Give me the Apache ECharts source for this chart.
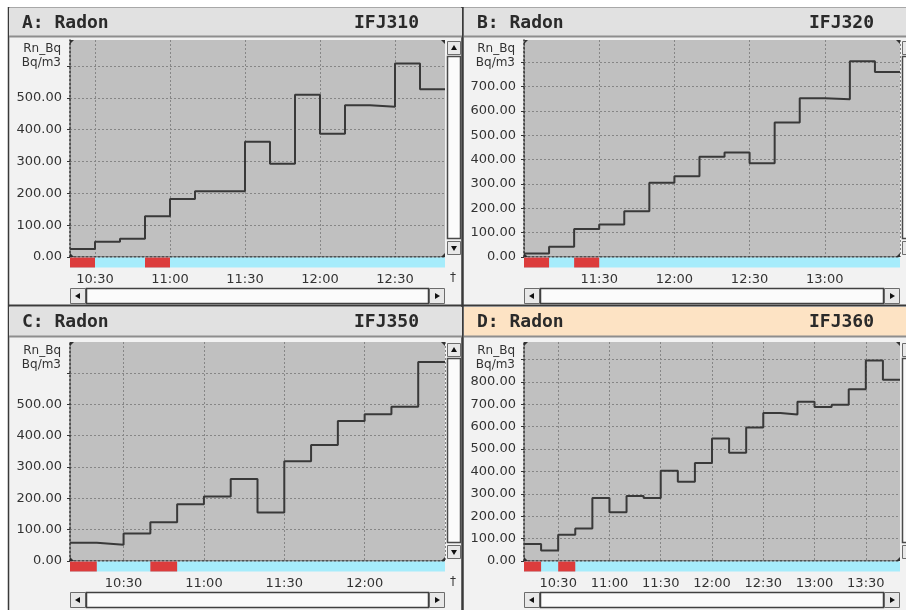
<!DOCTYPE html>
<html>
<head>
<meta charset="utf-8">
<title>Radon</title>
<script src="https://cdn.jsdelivr.net/npm/echarts@6/dist/echarts.min.js"></script>
<style>
  html, body { margin: 0; padding: 0; background: #fff; }
  #main { width: 906px; height: 610px; }
</style>
</head>
<body>
<div id="main"></div>
<script>
"use strict";
// 10 min steps, last time = end of the last step
const timesA = ['10:20','10:30','10:40','10:50','11:00','11:10','11:20','11:30','11:40','11:50','12:00','12:10','12:20','12:30','12:40','12:50'];
const valuesA = [25, 48, 57, 128, 182, 207, 207, 362, 293, 510, 387, 477, 472, 608, 527];
const alarmA = [['10:20','10:30'], ['10:50','11:00']];

const timesB = ['11:00','11:10','11:20','11:30','11:40','11:50','12:00','12:10','12:20','12:30','12:40','12:50','13:00','13:10','13:20','13:30'];
const valuesB = [14, 42, 115, 134, 188, 305, 332, 412, 430, 385, 553, 653, 648, 805, 760];
const alarmB = [['11:00','11:10'], ['11:20','11:30']];

const timesC = ['10:10','10:20','10:30','10:40','10:50','11:00','11:10','11:20','11:30','11:40','11:50','12:00','12:10','12:20','12:30'];
const valuesC = [58, 52, 88, 124, 181, 206, 262, 155, 318, 370, 447, 468, 492, 635];
const alarmC = [['10:10','10:20'], ['10:40','10:50']];

const timesD = ['10:10','10:20','10:30','10:40','10:50','11:00','11:10','11:20','11:30','11:40','11:50','12:00','12:10','12:20','12:30','12:40','12:50','13:00','13:10','13:20','13:30','13:40','13:50'];
const valuesD = [76, 47, 117, 145, 281, 218, 290, 281, 403, 354, 438, 547, 483, 596, 661, 654, 711, 688, 698, 767, 895, 809];
const alarmD = [['10:10','10:20'], ['10:30','10:40']];

// y axis ranges; the top gridline carries no number (unit label sits there)
const yMaxList = [682, 892, 699, 978];
const yUnitTick = [600, 800, 600, 900];

const FONT = 'DejaVu Sans';
const GRID_LINE = '#868686';
const RED = '#dc3c3c';
const CYAN = '#a6ecfb';

// minutes since midnight
function toMin(hm) {
  const p = hm.split(':');
  return (+p[0]) * 60 + (+p[1]);
}
function pad(n) { return (n < 10 ? '0' : '') + n; }
function fmtMin(v) { return pad(Math.floor(v / 60)) + ':' + pad(v % 60); }

const panels = [
  { title: 'A: Radon', id: 'IFJ310', times: timesA, values: valuesA, alarms: alarmA, px: 8,   ty: 8,   th: 28, plot: [70, 40, 375, 217],  active: false, dagger: true },
  { title: 'B: Radon', id: 'IFJ320', times: timesB, values: valuesB, alarms: alarmB, px: 463, ty: 8,   th: 28, plot: [524, 40, 376, 217], active: false, dagger: false },
  { title: 'C: Radon', id: 'IFJ350', times: timesC, values: valuesC, alarms: alarmC, px: 8,   ty: 307, th: 29, plot: [70, 342, 375, 219], active: false, dagger: true },
  { title: 'D: Radon', id: 'IFJ360', times: timesD, values: valuesD, alarms: alarmD, px: 463, ty: 307, th: 29, plot: [524, 342, 376, 219], active: true, dagger: false }
];

// 状态条 (red = alarm, cyan = normal)
function renderBand(params, api) {
  const p0 = api.coord([api.value(0), 0]);
  const p1 = api.coord([api.value(1), 0]);
  return {
    type: 'rect',
    shape: { x: p0[0], y: p0[1] + 0.5, width: p1[0] - p0[0], height: 10 },
    style: { fill: api.value(2) ? RED : CYAN }
  };
}

function scrollParts(L, T, W, H) {
  const out = [];
  const btn = (x, y, w, h) => ({ type: 'rect', shape: { x: x, y: y, width: w, height: h }, style: { fill: '#e8e8e8', stroke: '#6c6c6c', lineWidth: 1 } });
  const tri = (pts) => ({ type: 'polygon', shape: { points: pts }, style: { fill: '#111' } });
  // vertical
  const vx = L + W + 2.5;
  out.push(btn(vx, T + 1.5, 13, 13));
  out.push(tri([[vx + 6.5, T + 5], [vx + 3.5, T + 10], [vx + 9.5, T + 10]]));
  out.push({ type: 'rect', shape: { x: vx, y: T + 16.5, width: 13, height: H - 35 }, style: { fill: '#fbfbfb', stroke: '#4a4a4a', lineWidth: 1.5 } });
  out.push(btn(vx, T + H - 15.5, 13, 13));
  out.push(tri([[vx + 3.5, T + H - 11], [vx + 9.5, T + H - 11], [vx + 6.5, T + H - 6]]));
  // horizontal
  const hy = T + H + 31.5;
  out.push(btn(L + 0.5, hy, 15, 15));
  out.push(tri([[L + 5, hy + 7.5], [L + 10, hy + 4.5], [L + 10, hy + 10.5]]));
  out.push({ type: 'rect', shape: { x: L + 16.5, y: hy, width: W - 33, height: 15 }, style: { fill: '#fbfbfb', stroke: '#404040', lineWidth: 1.5 } });
  out.push(btn(L + W - 15.5, hy, 15, 15));
  out.push(tri([[L + W - 5, hy + 7.5], [L + W - 10, hy + 4.5], [L + W - 10, hy + 10.5]]));
  return out;
}

function corners(L, T, W, H) {
  const s = 4;
  return [
    [[L, T], [L + s, T], [L, T + s]],
    [[L + W, T], [L + W - s, T], [L + W, T + s]],
    [[L, T + H], [L, T + H - s], [L + s, T + H]],
    [[L + W, T + H], [L + W, T + H - s], [L + W - s, T + H]]
  ].map(p => ({ type: 'polygon', shape: { points: p }, style: { fill: '#333' } }));
}

const grids = [], xAxes = [], yAxes = [], series = [];
const graphics = [
  { type: 'rect', shape: { x: 0, y: 0, width: 906, height: 7 }, style: { fill: '#fff' } },
  { type: 'rect', shape: { x: 0, y: 0, width: 8, height: 610 }, style: { fill: '#fff' } },
  { type: 'line', shape: { x1: 8, y1: 7.5, x2: 906, y2: 7.5 }, style: { stroke: '#a8a8a8', lineWidth: 1 } },
  { type: 'line', shape: { x1: 8.5, y1: 7, x2: 8.5, y2: 610 }, style: { stroke: '#3a3a3a', lineWidth: 1.5 } },
  { type: 'line', shape: { x1: 462.5, y1: 7, x2: 462.5, y2: 610 }, style: { stroke: '#3a3a3a', lineWidth: 2.5 } },
  { type: 'line', shape: { x1: 8, y1: 305.5, x2: 906, y2: 305.5 }, style: { stroke: '#3a3a3a', lineWidth: 2 } }
];

panels.forEach((p, i) => {
  const L = p.plot[0], T = p.plot[1], W = p.plot[2], H = p.plot[3];
  const xMin = toMin(p.times[0]);
  const xMax = toMin(p.times[p.times.length - 1]);

  grids.push({ left: L, top: T, width: W, height: H, show: true, backgroundColor: '#c0c0c0', borderWidth: 0, outerBoundsMode: 'none' });

  // ticks every 10 min from min; only the half-hour ones get a gridline / label
  const splitColors = ['transparent', 'transparent', 'transparent'];
  splitColors[((30 - xMin % 30) % 30) / 10] = GRID_LINE;
  xAxes.push({
    type: 'value', gridIndex: i, min: xMin, max: xMax, interval: 10,
    axisLine: { show: true, lineStyle: { color: '#2c2c2c', width: 1.5, type: [2, 2] } },
    axisTick: { show: false },
    axisLabel: {
      margin: 16, color: '#333', fontFamily: FONT, fontSize: 13,
      formatter: v => (v % 30 === 0 && v > xMin && v < xMax) ? fmtMin(v) : ''
    },
    splitLine: { show: true, lineStyle: { color: splitColors, width: 1, type: [2, 2] } }
  });

  const unitTick = yUnitTick[i];
  yAxes.push({
    type: 'value', gridIndex: i, min: 0, max: yMaxList[i], interval: 100,
    name: 'Rn_Bq\nBq/m3', nameLocation: 'end', nameGap: -2, nameMoveOverlap: false,
    nameTextStyle: { align: 'right', verticalAlign: 'top', lineHeight: 14, padding: [0, 9, 0, 0], color: '#333', fontFamily: FONT, fontSize: 12 },
    axisLine: { show: true, lineStyle: { color: '#2c2c2c', width: 1.5, type: [2, 2] } },
    axisTick: { show: true, length: 3, lineStyle: { color: '#333' } },
    axisLabel: {
      margin: 8, color: '#333', fontFamily: FONT, fontSize: 13, showMaxLabel: false,
      formatter: v => v >= unitTick ? '' : v.toFixed(2)
    },
    splitLine: { show: true, showMaxLine: false, lineStyle: { color: GRID_LINE, width: 1, type: [2, 2] } }
  });

  // step line: the last value holds to the end time
  const lineData = p.times.map((t, k) => [toMin(t), p.values[Math.min(k, p.values.length - 1)]]);
  series.push({
    type: 'line', xAxisIndex: i, yAxisIndex: i, step: 'end', symbol: 'none',
    lineStyle: { color: '#393939', width: 2 }, data: lineData, z: 3
  });

  const bandData = [[xMin, xMax, 0]].concat(p.alarms.map(a => [toMin(a[0]), toMin(a[1]), 1]));
  series.push({
    type: 'custom', xAxisIndex: i, yAxisIndex: i, clip: false, silent: true,
    encode: { x: [0, 1] }, renderItem: renderBand, data: bandData, z: 1
  });

  // title bar
  const tw = (p.px === 8 ? 462 : 906) - p.px - 1;
  graphics.push({ type: 'rect', shape: { x: p.px + 1, y: p.ty, width: tw, height: p.th }, style: { fill: p.active ? '#fde3c4' : '#e1e1e1' } });
  graphics.push({ type: 'line', shape: { x1: p.px + 1, y1: p.ty + p.th + 0.5, x2: p.px + 1 + tw, y2: p.ty + p.th + 0.5 }, style: { stroke: '#8e8e8e', lineWidth: 2 } });
  graphics.push({ type: 'text', style: { x: p.px + 14, y: p.ty + 15, text: p.title, fill: '#2a2a2a', font: 'bold 18px "DejaVu Sans Mono"', verticalAlign: 'middle' } });
  graphics.push({ type: 'text', style: { x: p.px + 346, y: p.ty + 15, text: p.id, fill: '#2a2a2a', font: 'bold 18px "DejaVu Sans Mono"', verticalAlign: 'middle' } });

  scrollParts(L, T, W, H).forEach(g => graphics.push(g));
  corners(L, T, W, H).forEach(g => graphics.push(g));
  if (p.dagger) {
    graphics.push({ type: 'text', style: { x: L + W + 8, y: T + H + 21, text: '†', fill: '#333', font: '12px "DejaVu Sans"', align: 'center', verticalAlign: 'middle' } });
  }
});

const chart = echarts.init(document.getElementById('main'), null, { renderer: 'canvas' });
chart.setOption({
  backgroundColor: '#f2f2f2',
  animation: false,
  grid: grids,
  xAxis: xAxes,
  yAxis: yAxes,
  series: series,
  graphic: { elements: graphics }
});
</script>
</body>
</html>
